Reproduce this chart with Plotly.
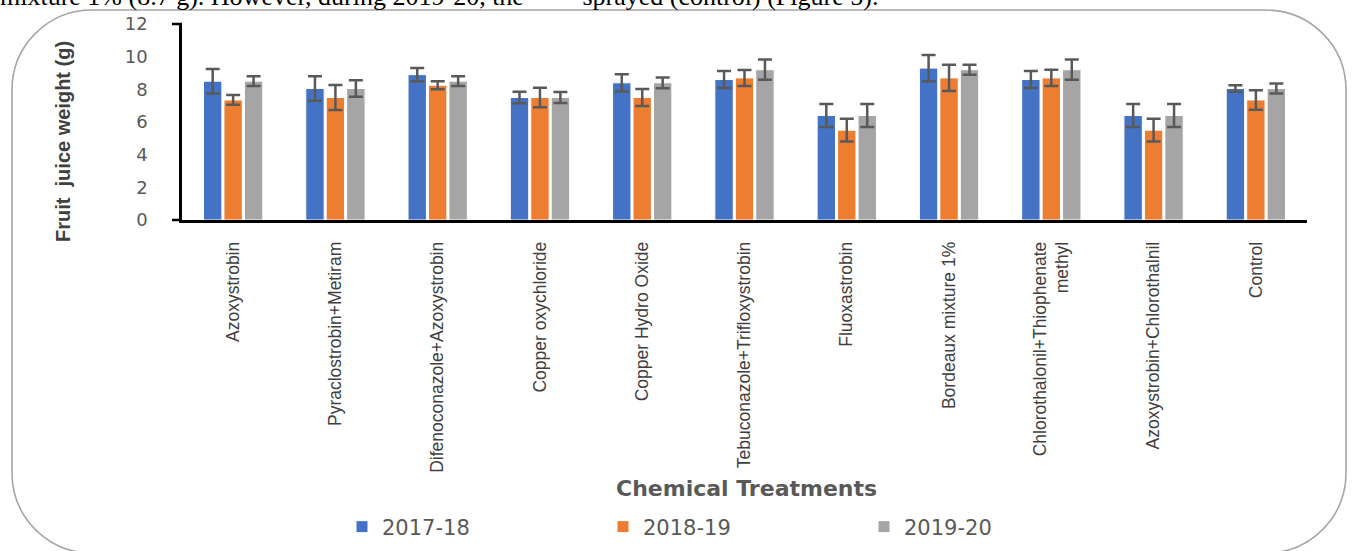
import plotly.graph_objects as go

categories = ["Azoxystrobin", "Pyraclostrobin+Metiram", "Difenoconazole+Azoxystrobin",
              "Copper oxychloride", "Copper Hydro Oxide", "Tebuconazole+Trifloxystrobin",
              "Fluoxastrobin", "Bordeaux mixture 1%", "Chlorothalonil+Thiophenate<br>methyl",
              "Azoxystrobin+Chlorothalnil", "Control"]
series_names = ["2017-18", "2018-19", "2019-20"]
vals_2017 = [8.5, 8.05, 8.9, 7.5, 8.4, 8.6, 6.4, 9.3, 8.6, 6.4, 8.05]
err_2017 = [0.75, 0.75, 0.4, 0.35, 0.53, 0.52, 0.7, 0.8, 0.52, 0.7, 0.2]
vals_2018 = [7.35, 7.5, 8.25, 7.5, 7.5, 8.7, 5.5, 8.7, 8.7, 5.5, 7.35]
err_2018 = [0.3, 0.77, 0.25, 0.6, 0.52, 0.49, 0.7, 0.8, 0.5, 0.7, 0.6]
vals_2019 = [8.5, 8.05, 8.5, 7.5, 8.4, 9.2, 6.4, 9.2, 9.2, 6.4, 8.05]
err_2019 = [0.3, 0.5, 0.3, 0.33, 0.33, 0.62, 0.7, 0.3, 0.62, 0.7, 0.3]
colors = ["#4472C4", "#ED7D31", "#A5A5A5"]
y_ticks = [0, 2, 4, 6, 8, 10, 12]

W, H = 1354, 551
L, R, T, B = 182, 47, 24, 331
PW, PH = W - L - R, H - T - B


def px(x):
    return (x - L) / PW


def py(y):
    return (H - B - y) / PH


fig = go.Figure()
for name, v, e, c in zip(series_names, [vals_2017, vals_2018, vals_2019],
                         [err_2017, err_2018, err_2019], colors):
    fig.add_trace(go.Bar(
        x=categories, y=v, name=name,
        marker=dict(color=c, line=dict(color="white", width=1)),
        error_y=dict(type="data", array=e, visible=True, color="#595959",
                     thickness=2.5, width=7),
    ))

# rounded frame (pixel geometry converted to paper units)
x0, x1, y0, y1, r = 12, 1346, 10, 553, 80
k = 0.552 * r
pts = [
    ("M", [(x0 + r, y0)]),
    ("L", [(x1 - r, y0)]),
    ("C", [(x1 - r + k, y0), (x1, y0 + r - k), (x1, y0 + r)]),
    ("L", [(x1, y1 - r)]),
    ("C", [(x1, y1 - r + k), (x1 - r + k, y1), (x1 - r, y1)]),
    ("L", [(x0 + r, y1)]),
    ("C", [(x0 + r - k, y1), (x0, y1 - r + k), (x0, y1 - r)]),
    ("L", [(x0, y0 + r)]),
    ("C", [(x0, y0 + r - k), (x0 + r - k, y0), (x0 + r, y0)]),
]
path = " ".join(cmd + " " + " ".join(f"{px(a):.5f},{py(b):.5f}" for a, b in p) for cmd, p in pts) + " Z"

shapes = [
    dict(type="path", path=path, xref="paper", yref="paper",
         line=dict(color="#A6A6A6", width=1.6), layer="below"),
    # short outer ticks at 0 and 12
    dict(type="line", xref="paper", yref="paper", x0=px(172), x1=0, y0=0, y1=0,
         line=dict(color="black", width=2.5)),
    dict(type="line", xref="paper", yref="paper", x0=px(172), x1=0, y0=1, y1=1,
         line=dict(color="black", width=2.5)),
]

annotations = [
    dict(text="Fruit  juice weight (g)", textangle=-90, xref="paper", yref="paper",
         x=px(63), y=py(142), xanchor="center", yanchor="middle", showarrow=False,
         font=dict(family="Liberation Sans, Arial, sans-serif", size=20, color="#404040",
                   weight="bold")),
    dict(text="<b>Chemical Treatments</b>", xref="paper", yref="paper",
         x=px(746), y=py(489), xanchor="center", yanchor="middle", showarrow=False,
         font=dict(family="DejaVu Sans, sans-serif", size=22, color="#595959")),
    dict(text="mixture 1% (8.7 g). However, during 2019-20, the\u00a0\u00a0\u00a0\u00a0\u00a0\u00a0\u00a0\u00a0\u00a0sprayed (control) (Figure 5).",
         xref="paper", yref="paper", x=px(-1), y=py(12), xanchor="left", yanchor="bottom",
         showarrow=False, borderpad=0,
         font=dict(family="Liberation Serif, DejaVu Serif, serif", size=26, color="#000000")),
]

fig.update_layout(
    width=W, height=H, autosize=False,
    margin=dict(l=L, r=R, t=T, b=B, pad=0, autoexpand=False),
    paper_bgcolor="white", plot_bgcolor="white",
    barmode="group", bargap=0.4, bargroupgap=0.1,
    showlegend=True,
    legend=dict(orientation="h", x=px(342), xanchor="left", y=py(527), yanchor="middle",
                entrywidth=216, entrywidthmode="pixels", bgcolor="rgba(0,0,0,0)",
                font=dict(family="DejaVu Sans, sans-serif", size=21, color="#595959"),
                itemclick=False, itemdoubleclick=False),
    xaxis=dict(showline=True, linecolor="black", linewidth=2.5, showgrid=False,
               ticks="", tickangle=-90, ticklabelstandoff=12, automargin=False,
               tickfont=dict(family="Liberation Sans, Arial, sans-serif", size=17.5, color="#404040")),
    yaxis=dict(range=[0, 12], tickvals=y_ticks, showline=True, linecolor="black",
               linewidth=2.5, showgrid=False, zeroline=False, ticks="",
               ticklabelstandoff=28, automargin=False,
               tickfont=dict(family="DejaVu Sans, sans-serif", size=18, color="#595959")),
    shapes=shapes,
    annotations=annotations,
)

fig.write_html("out.html", config={"displayModeBar": False},
               post_script="document.body.style.margin='0';document.body.style.overflow='hidden';")
